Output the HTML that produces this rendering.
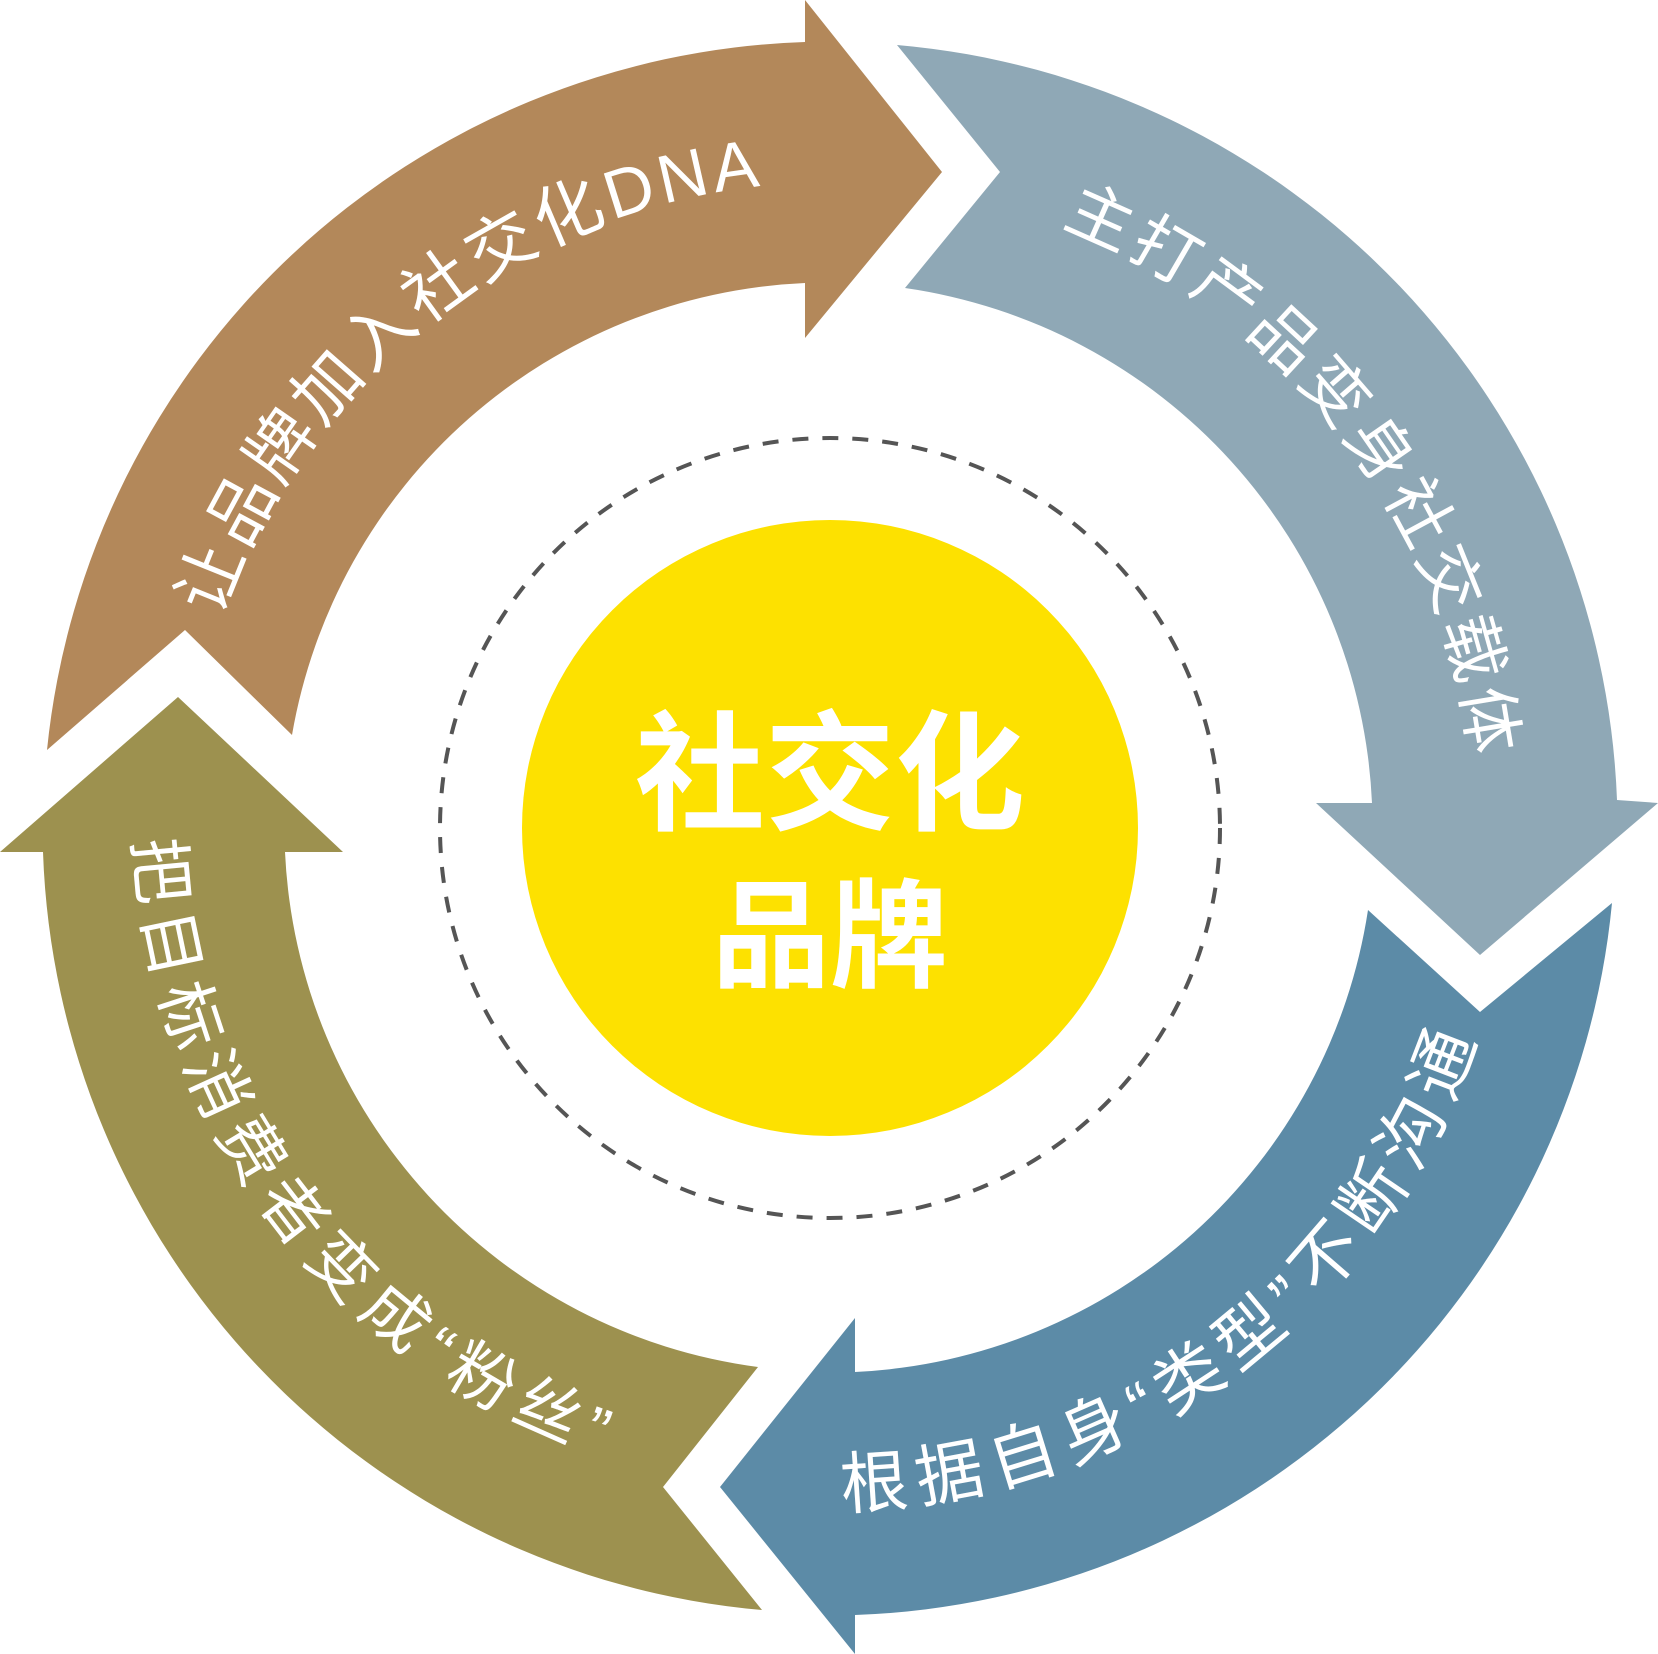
<!DOCTYPE html>
<html><head><meta charset="utf-8"><style>
html,body{margin:0;padding:0;background:#fff;}
svg{display:block;}
text{font-family:"Liberation Sans","Noto Sans CJK SC",sans-serif;fill:#fff;}
</style></head><body>
<svg width="1658" height="1654" viewBox="0 0 1658 1654" xmlns="http://www.w3.org/2000/svg">
<defs>
<path id="tl" d="M 220,618 A 645 645 0 0 1 774,185"/>
<path id="tr" d="M 1061,226 A 645 645 0 0 1 1473,772"/>
<path id="br" d="M 842,1508 A 680 680 0 0 0 1480,1027"/>
<path id="bl" d="M 135,840 A 680 680 0 0 0 624,1463"/>
</defs>
<path fill="#b3885a" d="M 47,750 A 788 788 0 0 1 805,42 L 805,0 L 942,172 L 805,338 L 805,283 A 545 545 0 0 0 292,735 L 185,630 Z"/>
<path fill="#8fa8b6" d="M 897,45 A 788 788 0 0 1 1617,800 L 1658,803 L 1480,955 L 1316,803 L 1372,803 A 545 545 0 0 0 905,288 L 1000,172 Z"/>
<path fill="#5c8ba7" d="M 1612,903 A 788 788 0 0 1 855,1615 L 855,1654 L 720,1487 L 855,1318 L 855,1372 A 545 545 0 0 0 1368,910 L 1480,1012 Z"/>
<path fill="#9d914f" d="M 762,1610 A 788 788 0 0 1 43,852 L 0,852 L 178,697 L 343,852 L 285,852 A 545 545 0 0 0 758,1367 L 663,1487 Z"/>
<circle cx="830" cy="828" r="390" fill="none" stroke="#555" stroke-width="4" stroke-dasharray="16 14"/>
<circle cx="830" cy="828" r="308" fill="#fde100"/>
<text x="830" y="820" text-anchor="middle" font-size="130" font-weight="bold">社交化</text>
<text x="830" y="978" text-anchor="middle" font-size="118" font-weight="bold">品牌</text>
<text font-size="68"><textPath href="#tl" textLength="730" lengthAdjust="spacing">让品牌加入社交化DNA</textPath></text>
<text font-size="66"><textPath href="#tr" textLength="705" lengthAdjust="spacing">主打产品变身社交载体</textPath></text>
<text font-size="68"><textPath href="#br" textLength="840" lengthAdjust="spacing">根据自身“类型”不断沟通</textPath></text>
<text font-size="66"><textPath href="#bl" textLength="820" lengthAdjust="spacing">把目标消费者变成“粉丝”</textPath></text>
</svg>
</body></html>
